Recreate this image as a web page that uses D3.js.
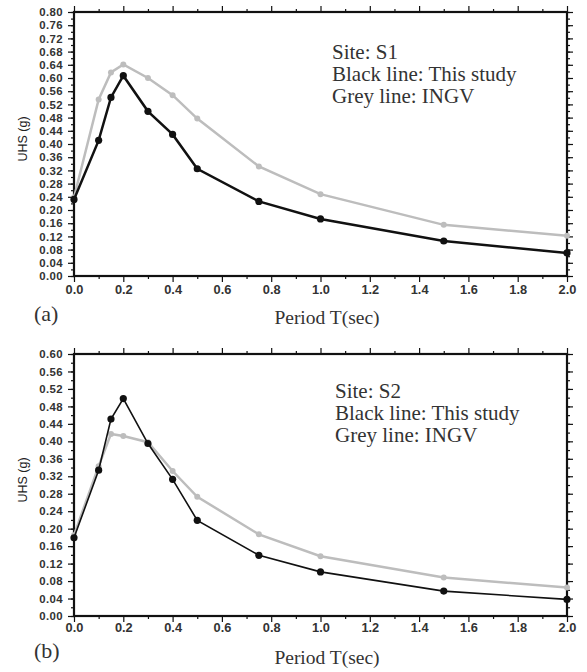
<!DOCTYPE html>
<html>
<head>
<meta charset="utf-8">
<script src="https://cdn.jsdelivr.net/npm/d3@7"></script>
<style>
  body { margin: 0; background: #fff; }
  .tick text { font-family: "Liberation Sans", Arial, sans-serif; font-size: 12.8px; font-weight: bold; fill: #333; }
  .yaxis .tick text { font-size: 11.4px; letter-spacing: 0.4px; }
  .serif { font-family: "Liberation Serif", "Times New Roman", serif; fill: #333; }
</style>
</head>
<body>
<svg id="chart" width="587" height="672"></svg>
<script>
// periods (sec) shared by both sites
const periods = [0, 0.1, 0.15, 0.2, 0.3, 0.4, 0.5, 0.75, 1.0, 1.5, 2.0];

// Site S1
const s1Study = [0.232, 0.411, 0.541, 0.607, 0.499, 0.429, 0.325, 0.226, 0.173, 0.106, 0.070];
const s1Ingv  = [0.238, 0.535, 0.617, 0.641, 0.600, 0.548, 0.477, 0.332, 0.248, 0.155, 0.122];

// Site S2
const s2Study = [0.179, 0.334, 0.451, 0.498, 0.395, 0.313, 0.219, 0.139, 0.101, 0.057, 0.038];
const s2Ingv  = [0.185, 0.343, 0.417, 0.412, 0.398, 0.332, 0.273, 0.187, 0.137, 0.088, 0.065];

const xTicks = [0, 0.2, 0.4, 0.6, 0.8, 1.0, 1.2, 1.4, 1.6, 1.8, 2.0];
const xMinor = [0.1, 0.3, 0.5, 0.7, 0.9, 1.1, 1.3, 1.5, 1.7, 1.9];

const svg = d3.select('#chart');

function drawPanel(p) {
  const x = d3.scaleLinear().domain([0, 2]).range([74, 567]);
  const y = d3.scaleLinear().domain([0, p.yMax]).range([p.bottom, p.top]);
  const g = svg.append('g');

  const yMajor = d3.range(0, p.yMax + 0.001, 0.04);
  const yMinor = d3.range(0, p.yMax + 0.001, 0.02);

  // minor ticks first, no labels
  g.append('g').attr('transform', `translate(0,${p.bottom})`)
    .call(d3.axisBottom(x).tickValues(xMinor).tickSize(3).tickFormat(''));
  g.append('g').attr('transform', `translate(0,${p.top})`)
    .call(d3.axisTop(x).tickValues(xMinor).tickSize(3).tickFormat(''));
  g.append('g').attr('transform', 'translate(74,0)')
    .call(d3.axisLeft(y).tickValues(yMinor).tickSize(3).tickFormat(''));
  g.append('g').attr('transform', 'translate(567,0)')
    .call(d3.axisRight(y).tickValues(yMinor).tickSize(3).tickFormat(''));

  g.append('g').attr('transform', `translate(0,${p.bottom})`)
    .call(d3.axisBottom(x).tickValues(xTicks).tickSize(6).tickPadding(p.xPad).tickFormat(d3.format('.1f')));
  g.append('g').attr('transform', `translate(0,${p.top})`)
    .call(d3.axisTop(x).tickValues(xTicks).tickSize(6).tickFormat(''));
  g.append('g').attr('class', 'yaxis').attr('transform', 'translate(74,0)')
    .call(d3.axisLeft(y).tickValues(yMajor).tickSize(6).tickPadding(5).tickFormat(d3.format('.2f')));
  g.append('g').attr('transform', 'translate(567,0)')
    .call(d3.axisRight(y).tickValues(yMajor).tickSize(6).tickFormat(''));

  g.selectAll('.domain').remove();
  g.selectAll('.tick line').attr('stroke', '#111').attr('stroke-width', 1.2);

  // frame
  g.append('rect')
    .attr('x', 74).attr('y', p.top)
    .attr('width', 567 - 74).attr('height', p.bottom - p.top)
    .style('fill', 'none').style('stroke', '#111').style('stroke-width', 2.2);

  const line = d3.line().x((d, i) => x(periods[i])).y(d => y(d));

  // grey line: INGV
  g.append('path').datum(p.ingv)
    .attr('d', line)
    .style('fill', 'none').style('stroke', '#bdbdbd').style('stroke-width', 2.5);
  g.selectAll('.gdot').data(p.ingv).enter().append('circle')
    .attr('cx', (d, i) => x(periods[i])).attr('cy', d => y(d))
    .attr('r', 3).style('fill', '#bdbdbd');

  // black line: this study
  g.append('path').datum(p.study)
    .attr('d', line)
    .style('fill', 'none').style('stroke', '#111').style('stroke-width', p.lineW);
  g.selectAll('.bdot').data(p.study).enter().append('circle')
    .attr('cx', (d, i) => x(periods[i])).attr('cy', d => y(d))
    .attr('r', 3.6).style('fill', '#111');

  // labels
  g.append('text').attr('class', 'serif')
    .attr('x', 327).attr('y', p.bottom + p.periodDy)
    .attr('text-anchor', 'middle').style('font-size', '19.5px')
    .text('Period T(sec)');
  g.append('text').attr('class', 'serif')
    .attr('x', 34).attr('y', p.bottom + p.tagDy)
    .style('font-size', '22px')
    .text(p.tag);
  g.append('text')
    .attr('transform', `translate(27,${(p.top + p.bottom) / 2 - 5}) rotate(-90)`)
    .attr('text-anchor', 'middle')
    .style('font-family', '"Liberation Sans", Arial, sans-serif')
    .style('font-size', '12.5px').style('fill', '#222')
    .text('UHS (g)');

  const notes = ['Site: ' + p.site, 'Black line: This study', 'Grey line: INGV'];
  g.selectAll('.note').data(notes).enter().append('text')
    .attr('class', 'serif')
    .attr('x', p.noteX).attr('y', (d, i) => p.noteY + i * 22)
    .style('font-size', '21px')
    .text(d => d);
}

drawPanel({ top: 12, bottom: 276, yMax: 0.8, study: s1Study, ingv: s1Ingv,
            site: 'S1', tag: '(a)', lineW: 2.5, xPad: 3, noteX: 332, noteY: 59,
            periodDy: 48, tagDy: 45 });
drawPanel({ top: 354, bottom: 616, yMax: 0.6, study: s2Study, ingv: s2Ingv,
            site: 'S2', tag: '(b)', lineW: 1.6, xPad: 1, noteX: 335, noteY: 398,
            periodDy: 48, tagDy: 42 });
</script>
</body>
</html>
